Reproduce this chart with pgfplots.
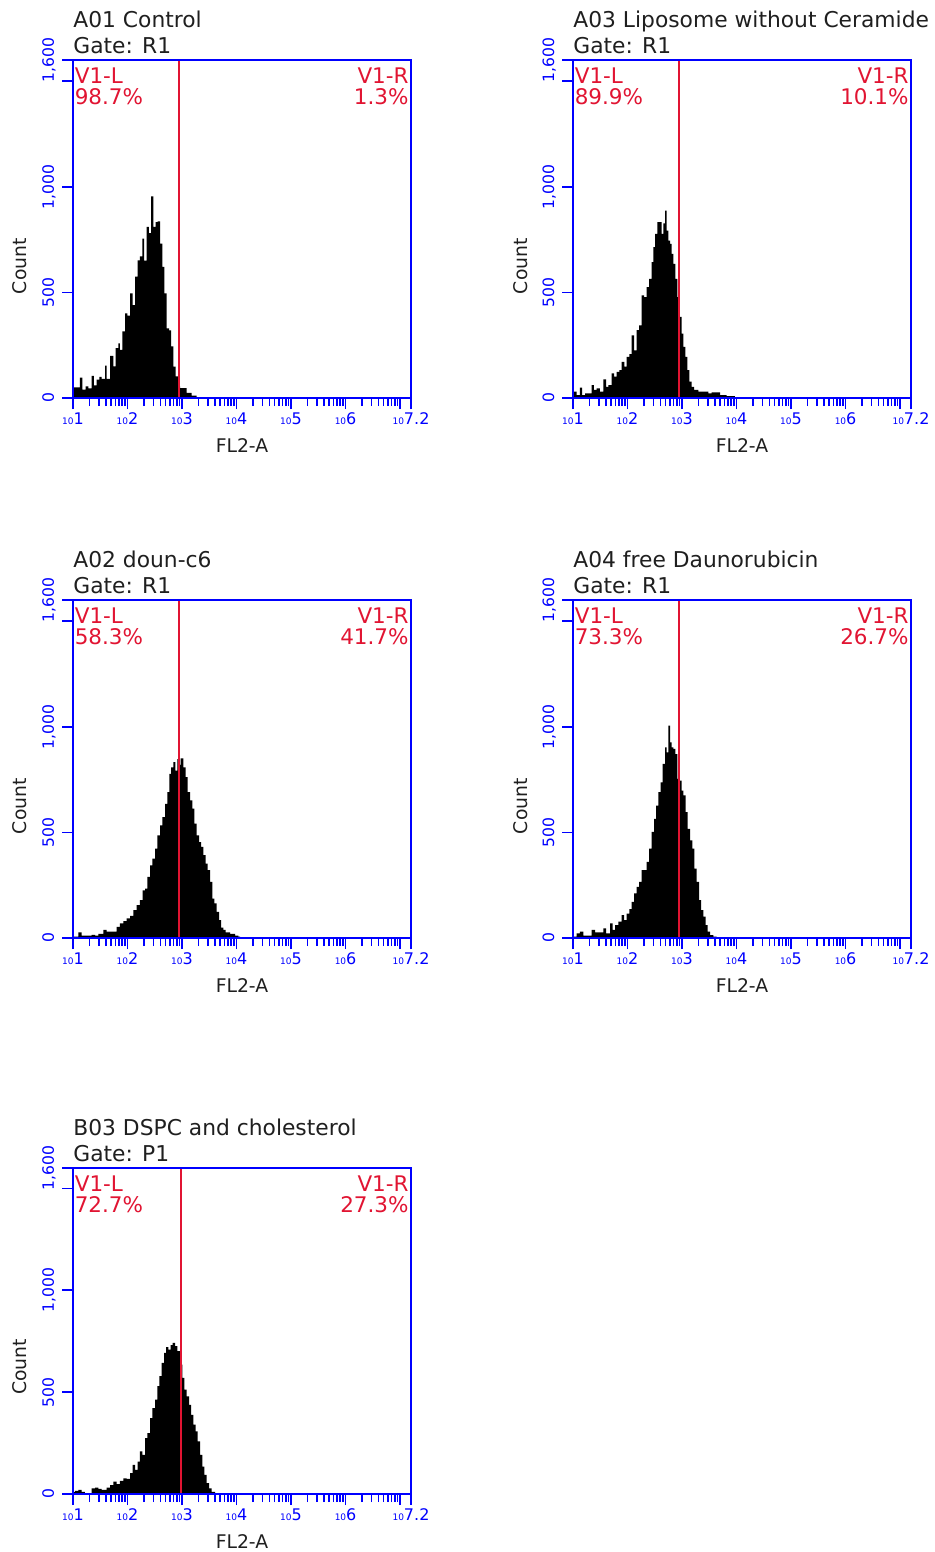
\documentclass[border=0pt]{standalone}
\usepackage{fontspec}
\setmainfont{DejaVu Sans}
\usepackage{pgfplots}
\pgfplotsset{compat=1.18}
\definecolor{facsblue}{RGB}{0,0,255}
\definecolor{facsred}{RGB}{225,20,50}

% decade ticks on a log10 channel axis
\def\minorlist{1.301,1.477,1.602,1.699,1.778,1.845,1.903,1.954,
2.301,2.477,2.602,2.699,2.778,2.845,2.903,2.954,
3.301,3.477,3.602,3.699,3.778,3.845,3.903,3.954,
4.301,4.477,4.602,4.699,4.778,4.845,4.903,4.954,
5.301,5.477,5.602,5.699,5.778,5.845,5.903,5.954,
6.301,6.477,6.602,6.699,6.778,6.845,6.903,6.954}
\newcommand\dec[1]{{\fontsize{4.5}{4.5}\selectfont 10}#1}

\pgfplotsset{
  facs/.style={
    scale only axis, width=169pt, height=169pt, anchor=north west,
    xmin=1, xmax=7.2, ymin=0, ymax=1600,
    axis on top, clip=false,
    axis line style={facsblue, line width=0.8pt},
    every tick/.style={facsblue, line width=0.8pt},
    tick align=outside, tick pos=left,
    major tick length=5.5pt, minor tick length=4pt,
    xtick={1,2,3,4,5,6,7.2},
    xticklabels={\dec{1},\dec{2},\dec{3},\dec{4},\dec{5},\dec{6},\dec{7.2}},
    minor xtick=\minorlist,
    extra x ticks={7}, extra x tick labels={},
    ytick={0,500,1000,1600},
    yticklabels={0,500,{1,000},{1,600}},
    extra y ticks={1500}, extra y tick labels={},
    tick label style={facsblue},
    xticklabel style={anchor=north, inner sep=0pt, font=\fontsize{8}{8}\selectfont},
    xticklabel shift=1.5pt,
    yticklabel style={rotate=90, anchor=base, inner sep=0pt, font=\fontsize{7.8}{7.8}\selectfont},
    yticklabel shift=4pt,
  },
  hist/.style={const plot, fill=black, draw=none, mark=none},
  gate/.style={facsred, line width=0.9pt, mark=none},
}
\tikzset{
  ttl/.style={inner sep=0pt, text=black!88, font=\fontsize{10.9}{12}\selectfont},
  rtx/.style={inner sep=0pt, text=facsred, font=\fontsize{10.75}{12}\selectfont},
  lbl/.style={inner sep=0pt, text=black!88, font=\fontsize{9.4}{11}\selectfont},
}
\newcommand\panel[4]{%
  \node[ttl, anchor=base west] at ([yshift=16.5pt]rel axis cs:0,1) {#1};
  \node[ttl, anchor=base west] at ([yshift=3.5pt]rel axis cs:0,1) {#2};
  \node[rtx, anchor=base west] at ([xshift=0.7pt,yshift=-11.5pt]rel axis cs:0,1) {V1-L};
  \node[rtx, anchor=base west] at ([xshift=0.7pt,yshift=-22pt]rel axis cs:0,1) {#3};
  \node[rtx, anchor=base east] at ([xshift=-1pt,yshift=-11.5pt]rel axis cs:1,1) {V1-R};
  \node[rtx, anchor=base east] at ([xshift=-1pt,yshift=-22pt]rel axis cs:1,1) {#4};
  \node[lbl, rotate=90, anchor=base] at ([xshift=-23pt]rel axis cs:0,0.39) {Count};
  \node[lbl, anchor=base] at ([yshift=-27pt]rel axis cs:0.5,0) {FL2-A};
}

\begin{document}
\begin{tikzpicture}
\useasboundingbox (0,0) rectangle (467pt,-776pt);

% A01 Control
\begin{axis}[facs, at={(36.5pt,-30pt)}]
\addplot[hist] coordinates {
(1.000,50)(1.128,97)(1.171,40)(1.232,55)(1.281,45)(1.343,105)(1.385,60)(1.434,87)
(1.483,100)(1.526,90)(1.587,153)(1.618,90)(1.679,200)(1.740,150)(1.783,236)(1.832,259)
(1.862,228)(1.905,315)(1.954,401)(1.997,390)(2.046,495)(2.095,440)(2.138,574)(2.187,652)
(2.229,670)(2.272,755)(2.303,650)(2.352,810)(2.394,780)(2.431,954)(2.474,810)(2.517,833)
(2.553,836)(2.596,731)(2.639,621)(2.676,495)(2.719,330)(2.761,320)(2.798,244)(2.841,149)
(2.884,102)(2.933,55)(2.963,47)(3.086,24)(3.177,11)(3.269,0)} \closedcycle;
\addplot[gate] coordinates {(2.945,0)(2.945,1600)};
\panel{A01 Control}{Gate: R1}{98.7\%}{1.3\%}
\end{axis}

% A03 Liposome without Ceramide
\begin{axis}[facs, at={(286.5pt,-30pt)}]
\addplot[hist] coordinates {
(1.000,30)(1.067,14)(1.128,49)(1.165,14)(1.220,22)(1.343,61)(1.385,38)(1.434,46)
(1.495,30)(1.557,88)(1.606,53)(1.648,61)(1.710,116)(1.752,101)(1.801,124)(1.850,132)
(1.893,171)(1.942,148)(1.985,195)(2.034,208)(2.077,297)(2.119,226)(2.168,321)(2.211,344)
(2.260,486)(2.303,478)(2.352,525)(2.394,564)(2.443,643)(2.474,714)(2.505,777)(2.547,832)
(2.584,832)(2.627,777)(2.657,827)(2.688,887)(2.719,792)(2.749,745)(2.780,730)(2.810,682)
(2.841,635)(2.878,564)(2.914,478)(2.951,384)(2.994,305)(3.024,242)(3.061,195)(3.098,132)
(3.134,77)(3.177,53)(3.220,38)(3.299,30)(3.483,22)(3.544,27)(3.697,14)(3.819,9)(3.970,0)} \closedcycle;
\addplot[gate] coordinates {(2.945,0)(2.945,1600)};
\panel{A03 Liposome without Ceramide}{Gate: R1}{89.9\%}{10.1\%}
\end{axis}

% A02 doun-c6
\begin{axis}[facs, at={(36.5pt,-300pt)}]
\addplot[hist] coordinates {
(1.000,6)(1.098,27)(1.159,11)(1.220,11)(1.343,15)(1.404,11)(1.465,20)(1.557,38)
(1.618,30)(1.801,53)(1.862,69)(1.923,80)(1.985,93)(2.046,105)(2.107,132)(2.168,156)
(2.229,179)(2.278,226)(2.321,234)(2.364,289)(2.413,344)(2.456,376)(2.505,423)(2.547,486)
(2.596,533)(2.639,572)(2.688,635)(2.731,690)(2.767,777)(2.798,808)(2.841,832)(2.878,792)
(2.914,847)(2.945,820)(2.975,850)(3.024,808)(3.067,761)(3.104,690)(3.147,651)(3.190,612)
(3.226,541)(3.269,486)(3.312,454)(3.349,431)(3.391,392)(3.434,352)(3.471,321)(3.514,266)
(3.556,187)(3.593,164)(3.636,124)(3.679,85)(3.716,49)(3.758,38)(3.801,27)(3.881,19)
(3.972,11)(4.034,6)(4.064,0)} \closedcycle;
\addplot[gate] coordinates {(2.945,0)(2.945,1600)};
\panel{A02 doun-c6}{Gate: R1}{58.3\%}{41.7\%}
\end{axis}

% A04 free Daunorubicin
\begin{axis}[facs, at={(286.5pt,-300pt)}]
\addplot[hist] coordinates {
(1.000,6)(1.067,22)(1.128,30)(1.190,11)(1.343,38)(1.404,27)(1.557,46)(1.606,22)
(1.679,69)(1.728,38)(1.771,61)(1.832,77)(1.893,108)(1.936,85)(1.985,116)(2.034,137)
(2.077,171)(2.119,211)(2.168,242)(2.211,266)(2.260,321)(2.303,321)(2.352,360)(2.394,423)
(2.443,502)(2.486,564)(2.523,627)(2.566,690)(2.608,737)(2.645,824)(2.688,902)(2.719,879)
(2.749,1005)(2.780,926)(2.810,902)(2.841,895)(2.878,871)(2.914,753)(2.951,745)(2.994,698)
(3.024,675)(3.067,596)(3.104,517)(3.147,462)(3.190,423)(3.226,329)(3.269,266)(3.312,179)
(3.349,132)(3.391,101)(3.434,61)(3.471,30)(3.514,14)(3.575,6)(3.636,0)} \closedcycle;
\addplot[gate] coordinates {(2.945,0)(2.945,1600)};
\panel{A04 free Daunorubicin}{Gate: R1}{73.3\%}{26.7\%}
\end{axis}

% B03 DSPC and cholesterol
\begin{axis}[facs, height=163pt, at={(36.5pt,-584pt)}]
\addplot[hist] coordinates {
(1.000,11)(1.037,15)(1.098,20)(1.159,11)(1.220,3)(1.343,28)(1.404,31)(1.465,25)
(1.526,20)(1.618,31)(1.679,44)(1.740,61)(1.801,48)(1.862,64)(1.923,77)(1.985,74)
(2.046,102)(2.095,143)(2.138,118)(2.187,159)(2.229,209)(2.272,192)(2.321,274)(2.364,299)
(2.413,373)(2.456,422)(2.505,463)(2.547,529)(2.584,578)(2.627,644)(2.670,693)(2.706,721)
(2.749,709)(2.792,731)(2.829,742)(2.872,726)(2.914,701)(2.963,635)(3.006,570)(3.043,512)
(3.086,479)(3.128,438)(3.165,389)(3.208,340)(3.251,307)(3.287,258)(3.330,192)(3.373,135)
(3.410,94)(3.453,53)(3.495,28)(3.544,11)(3.606,0)} \closedcycle;
\addplot[gate] coordinates {(2.976,0)(2.976,1600)};
\panel{B03 DSPC and cholesterol}{Gate: P1}{72.7\%}{27.3\%}
\end{axis}
\end{tikzpicture}
\end{document}
